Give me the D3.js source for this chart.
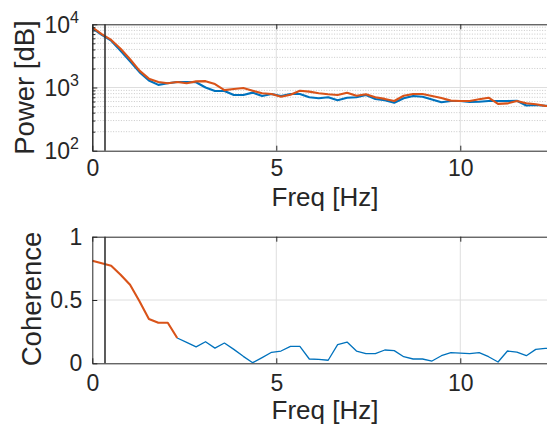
<!DOCTYPE html>
<html>
<head>
<meta charset="utf-8">
<script src="https://cdn.jsdelivr.net/npm/d3@7"></script>
<style>
  html, body { margin: 0; padding: 0; background: #fff; overflow: hidden; }
  svg { display: block; }
  text { font-family: "Liberation Sans", Arial, Helvetica, sans-serif; fill: #262626; }
</style>
</head>
<body>
<svg id="chart" width="547" height="428"></svg>
<script>
// Frequency bins (Hz)
const freq = [0, 0.256, 0.513, 0.769, 1.026, 1.282, 1.538, 1.795, 2.051, 2.308,
  2.564, 2.821, 3.077, 3.333, 3.590, 3.846, 4.103, 4.359, 4.615, 4.872,
  5.128, 5.385, 5.641, 5.897, 6.154, 6.410, 6.667, 6.923, 7.179, 7.436,
  7.692, 7.949, 8.205, 8.462, 8.718, 8.974, 9.231, 9.487, 9.744, 10.000,
  10.256, 10.513, 10.769, 11.026, 11.282, 11.538, 11.795, 12.051, 12.308, 12.564];

// Power spectrum, channel A (blue)
const powerA = [8650, 6800, 5500, 3800, 2600, 1750, 1290, 1100, 1165, 1220,
  1220, 1210, 1000, 880, 880, 760, 760, 830, 735, 790,
  735, 790, 790, 700, 675, 700, 630, 690, 700, 760,
  658, 630, 575, 675, 735, 715, 645, 585, 612, 612,
  590, 596, 612, 612, 612, 617, 520, 528, 515, 510];

// Power spectrum, channel B (orange)
const powerB = [8970, 7000, 5650, 4100, 2800, 1850, 1380, 1220, 1165, 1220,
  1165, 1250, 1260, 1135, 910, 945, 980, 890, 810, 790,
  715, 770, 890, 860, 810, 780, 760, 828, 740, 780,
  700, 660, 612, 740, 790, 790, 735, 680, 620, 612,
  612, 650, 690, 550, 560, 610, 565, 542, 512, 500];

// Magnitude-squared coherence between the two channels
const coherence = [0.81, 0.79, 0.77, 0.70, 0.62, 0.49, 0.35, 0.32, 0.32, 0.20,
  0.165, 0.13, 0.17, 0.12, 0.16, 0.11, 0.055, 0.005, 0.045, 0.087,
  0.097, 0.134, 0.134, 0.034, 0.031, 0.024, 0.147, 0.168, 0.097, 0.076,
  0.076, 0.105, 0.10, 0.052, 0.034, 0.034, 0.018, 0.06, 0.084, 0.081,
  0.076, 0.084, 0.052, 0.01, 0.097, 0.089, 0.06, 0.11, 0.118, 0.12];
// Bins 0..cohHighLast form the high-coherence band
const cohHighLast = 9;

const markerFreq = 0.345;          // vertical reference line (Hz)
const xTicks = [0, 5, 10];
const powerTicks = [1e2, 1e3, 1e4];
const powerExp = ["2", "3", "4"];
const cohTicks = [0, 0.5, 1];
const cohTickLabels = ["0", "0.5", "1"];

const blue = "#0072BD", orange = "#D95319";
const axisColor = "#262626";
const tickFont = 23, labelFont = 26, yLabelFont = 27.5;

const svg = d3.select("#chart");

const x = d3.scaleLinear().domain([0, 12.65]).range([92.3, 557.8]);
const yPow = d3.scaleLog().domain([1e2, 1e4]).range([150.7, 24.3]);
const yCoh = d3.scaleLinear().domain([0, 1]).range([363.3, 236.7]);

const defs = svg.append("defs");

function panel(id, y) {
  const [yb, yt] = y.range();
  defs.append("clipPath").attr("id", id)
    .append("rect").attr("x", x.range()[0]).attr("y", yt)
    .attr("width", x.range()[1] - x.range()[0]).attr("height", yb - yt);
  return { yb, yt };
}

// ---------- top panel: power spectra ----------
const P = panel("clipPow", yPow);
const gTop = svg.append("g");

// minor log grid (dotted)
const minorPow = [];
[100, 1000].forEach(d => { for (let m = 2; m <= 9; m++) minorPow.push(d * m); });
gTop.selectAll("line.minor").data(minorPow).join("line")
  .attr("x1", x.range()[0]).attr("x2", x.range()[1])
  .attr("y1", d => yPow(d)).attr("y2", d => yPow(d))
  .attr("stroke", "#bdbdbd").attr("stroke-width", 0.8).attr("stroke-dasharray", "1,1.6");
// major grid
gTop.selectAll("line.hmaj").data([1e3]).join("line")
  .attr("x1", x.range()[0]).attr("x2", x.range()[1])
  .attr("y1", d => yPow(d)).attr("y2", d => yPow(d))
  .attr("stroke", "#dedede").attr("stroke-width", 1);
gTop.selectAll("line.vmaj").data([5, 10]).join("line")
  .attr("x1", d => x(d)).attr("x2", d => x(d))
  .attr("y1", P.yt).attr("y2", P.yb)
  .attr("stroke", "#dedede").attr("stroke-width", 1);

const powLine = d3.line().x((d, i) => x(freq[i])).y(d => yPow(d));
const gPowData = gTop.append("g").attr("clip-path", "url(#clipPow)");
gPowData.append("path").datum(powerA).attr("d", powLine)
  .attr("fill", "none").attr("stroke", blue).attr("stroke-width", 2.1).attr("stroke-linejoin", "round");
gPowData.append("path").datum(powerB).attr("d", powLine)
  .attr("fill", "none").attr("stroke", orange).attr("stroke-width", 2.1).attr("stroke-linejoin", "round");

// axes (ticks pointing inward)
gTop.append("g").attr("transform", `translate(0,${P.yb})`)
  .call(d3.axisBottom(x).tickValues(xTicks).tickSize(-5).tickSizeOuter(0).tickPadding(9))
  .call(g => g.selectAll("text").attr("font-size", tickFont));
gTop.append("g").attr("transform", `translate(0,${P.yt})`)
  .call(d3.axisTop(x).tickValues(xTicks).tickSize(-5).tickSizeOuter(0).tickFormat(""));
gTop.append("g").attr("transform", `translate(${x.range()[0]},0)`)
  .call(d3.axisLeft(yPow).tickValues(minorPow).tickSize(-3).tickSizeOuter(0).tickFormat(""));
gTop.append("g").attr("transform", `translate(${x.range()[0]},0)`)
  .call(d3.axisLeft(yPow).tickValues(powerTicks).tickSize(-5).tickSizeOuter(0).tickFormat(""));
// log tick labels with superscripts
const powLab = gTop.selectAll("text.plab").data(powerTicks).join("text")
  .attr("x", 79).attr("y", d => yPow(d) + 8.5)
  .attr("text-anchor", "end").attr("font-size", tickFont);
powLab.append("tspan").text("10");
powLab.append("tspan").attr("dy", -10).attr("font-size", 16).text((d, i) => powerExp[i]);

// ---------- bottom panel: coherence ----------
const C = panel("clipCoh", yCoh);
const gBot = svg.append("g");
gBot.selectAll("line.hmaj").data([0.5]).join("line")
  .attr("x1", x.range()[0]).attr("x2", x.range()[1])
  .attr("y1", d => yCoh(d)).attr("y2", d => yCoh(d))
  .attr("stroke", "#dedede").attr("stroke-width", 1);
gBot.selectAll("line.vmaj").data([5, 10]).join("line")
  .attr("x1", d => x(d)).attr("x2", d => x(d))
  .attr("y1", C.yt).attr("y2", C.yb)
  .attr("stroke", "#dedede").attr("stroke-width", 1);

const cohLine = d3.line().x(d => x(freq[d])).y(d => yCoh(coherence[d]));
const idx = d3.range(coherence.length);
const gCohData = gBot.append("g").attr("clip-path", "url(#clipCoh)");
gCohData.append("path").datum(idx.filter(i => i >= cohHighLast)).attr("d", cohLine)
  .attr("fill", "none").attr("stroke", blue).attr("stroke-width", 1.3).attr("stroke-linejoin", "round");
gCohData.append("path").datum(idx.filter(i => i <= cohHighLast)).attr("d", cohLine)
  .attr("fill", "none").attr("stroke", orange).attr("stroke-width", 2.1).attr("stroke-linejoin", "round");

gBot.append("g").attr("transform", `translate(0,${C.yb})`)
  .call(d3.axisBottom(x).tickValues(xTicks).tickSize(-5).tickSizeOuter(0).tickPadding(11))
  .call(g => g.selectAll("text").attr("font-size", tickFont));
gBot.append("g").attr("transform", `translate(0,${C.yt})`)
  .call(d3.axisTop(x).tickValues(xTicks).tickSize(-5).tickSizeOuter(0).tickFormat(""));
gBot.append("g").attr("transform", `translate(${x.range()[0]},0)`)
  .call(d3.axisLeft(yCoh).tickValues(cohTicks).tickSize(-5).tickSizeOuter(0).tickPadding(10)
    .tickFormat((d, i) => cohTickLabels[i]))
  .call(g => g.selectAll("text").attr("font-size", tickFont));

// axis styling
svg.selectAll(".domain, .tick line").attr("stroke", axisColor).attr("stroke-width", 1);
svg.selectAll(".tick text").attr("fill", axisColor)
  .attr("font-family", "'Liberation Sans', Arial, Helvetica, sans-serif");

// vertical reference line in both panels
[[P.yt, P.yb], [C.yt, C.yb]].forEach(([a, b]) => {
  svg.append("line").attr("x1", x(markerFreq)).attr("x2", x(markerFreq))
    .attr("y1", a).attr("y2", b).attr("stroke", "#333").attr("stroke-width", 1.6);
});

// axis labels
const xc = (x.range()[0] + x.range()[1]) / 2;
svg.append("text").attr("x", xc).attr("y", 205.5).attr("text-anchor", "middle")
  .attr("font-size", labelFont).text("Freq [Hz]");
svg.append("text").attr("x", xc).attr("y", 419).attr("text-anchor", "middle")
  .attr("font-size", labelFont).text("Freq [Hz]");
svg.append("text").attr("transform", `translate(34,${(P.yt + P.yb) / 2}) rotate(-90)`)
  .attr("text-anchor", "middle").attr("font-size", yLabelFont).text("Power [dB]");
svg.append("text").attr("transform", `translate(40.5,${(C.yt + C.yb) / 2 - 1}) rotate(-90)`)
  .attr("text-anchor", "middle").attr("font-size", yLabelFont).text("Coherence");
</script>
</body>
</html>
